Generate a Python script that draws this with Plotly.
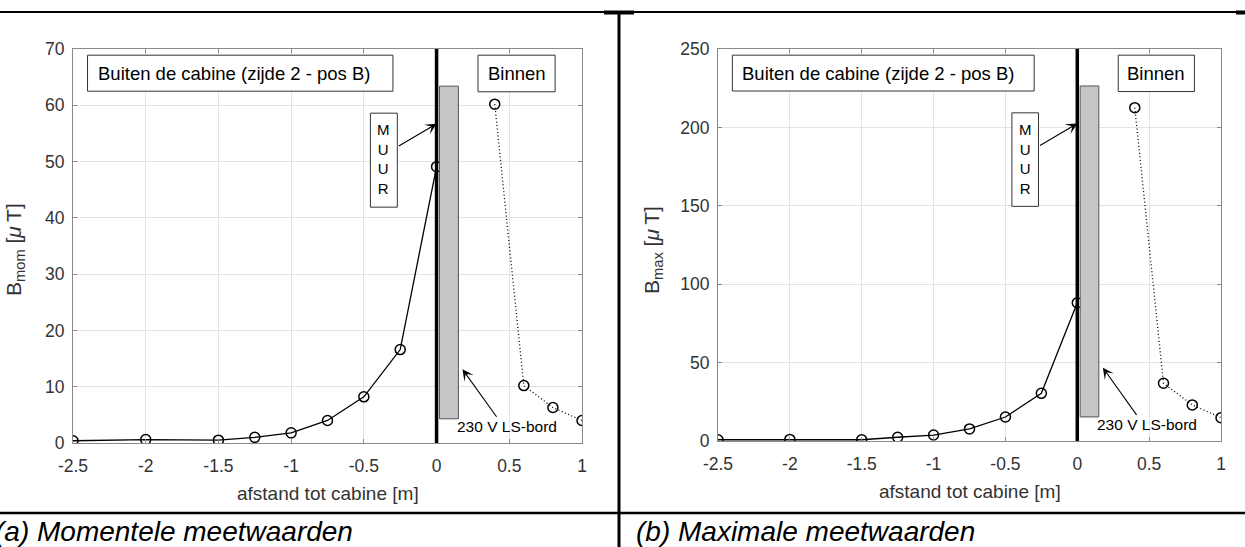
import plotly.graph_objects as go

# ---------------- data ----------------
x_out = [-2.5, -2, -1.5, -1.25, -1, -0.75, -0.5, -0.25, 0]
x_in = [0.4, 0.6, 0.8, 1.0]
b_mom_out = [0.4, 0.6, 0.5, 1.0, 1.8, 4.0, 8.2, 16.6, 49.1]
b_mom_in = [60.2, 10.2, 6.3, 4.0]
b_max_out = [0.8, 1.0, 0.8, 2.4, 3.8, 7.7, 15.3, 30.4, 88.2]
b_max_in = [212.6, 36.8, 23.0, 14.9]

x_tickvals = [-2.5, -2, -1.5, -1, -0.5, 0, 0.5, 1]
x_ticktext = ["-2.5", "-2", "-1.5", "-1", "-0.5", "0", "0.5", "1"]
y_ticks_mom = [0, 10, 20, 30, 40, 50, 60, 70]
y_ticks_max = [0, 50, 100, 150, 200, 250]

title_outside = "Buiten de cabine (zijde 2 - pos B)"
title_inside = "Binnen"
wall_label = "M<br>U<br>U<br>R"
board_label = "230 V LS-bord"
x_title = "afstand tot cabine [m]"
y_title_mom = "B<sub>mom</sub> [<i>μ</i>\u2009T]"
y_title_max = "B<sub>max</sub> [<i>μ</i>\u2009T]"
caption_a = "(a) Momentele meetwaarden"
caption_b = "(b) Maximale meetwaarden"

W, H = 1245, 547
FONT = "Liberation Sans, Arial, Helvetica, sans-serif"
TICKC = "#333333"
FRAMEC = "#8a8a8a"
GRIDC = "#e3e3e3"


def px(xp):
    return xp / W


def py(yp):
    return 1 - yp / H


fig = go.Figure()

panels = [
    dict(xa="x", ya="y", yout=b_mom_out, yin=b_mom_in, ymax=70, yt=y_ticks_mom,
         xdom=[px(73), px(582)], ydom=[py(443), py(49)], ytitle=y_title_mom,
         ytitle_x=15, xtitle_x=327.5, xtitle_y=493),
    dict(xa="x2", ya="y2", yout=b_max_out, yin=b_max_in, ymax=250, yt=y_ticks_max,
         xdom=[px(718), px(1221)], ydom=[py(441), py(49)], ytitle=y_title_max,
         ytitle_x=653, xtitle_x=969.5, xtitle_y=491),
]

shapes = []
annotations = []

for i, p in enumerate(panels):
    xa, ya, ym = p["xa"], p["ya"], p["ymax"]
    fig.add_trace(go.Scatter(x=x_out, y=p["yout"], xaxis=xa, yaxis=ya, mode="lines+markers",
                             line=dict(color="black", width=1.3),
                             marker=dict(symbol="circle-open", size=10, color="black",
                                         line=dict(width=1.5, color="black")),
                             showlegend=False))
    fig.add_trace(go.Scatter(x=x_in, y=p["yin"], xaxis=xa, yaxis=ya, mode="lines+markers",
                             line=dict(color="black", width=1.3, dash="1px,2.5px"),
                             marker=dict(symbol="circle-open", size=10, color="black",
                                         line=dict(width=1.5, color="black")),
                             showlegend=False))
    f = ym / 70.0  # scale factor for overlay positions
    # gray board rectangle
    shapes.append(dict(type="rect", xref=xa, yref=ya, x0=0.02, x1=0.15, y0=4.3 * f, y1=63.4 * f,
                       fillcolor="#c6c6c6", line=dict(color="#555555", width=1), layer="above"))
    # wall line
    shapes.append(dict(type="line", xref=xa, yref=ya, x0=0, x1=0, y0=0, y1=ym,
                       line=dict(color="black", width=3.5), layer="above"))
    # text boxes
    shapes.append(dict(type="rect", xref=xa, yref=ya, x0=-2.40, x1=-0.30, y0=62.5 * f, y1=68.9 * f,
                       fillcolor="white", line=dict(color="#333333", width=1), layer="above"))
    shapes.append(dict(type="rect", xref=xa, yref=ya, x0=0.285, x1=0.815, y0=62.4 * f, y1=68.9 * f,
                       fillcolor="white", line=dict(color="#333333", width=1), layer="above"))
    shapes.append(dict(type="rect", xref=xa, yref=ya, x0=-0.455, x1=-0.27, y0=41.9 * f, y1=58.6 * f,
                       fillcolor="white", line=dict(color="#333333", width=1), layer="above"))
    annotations.append(dict(xref=xa, yref=ya, x=-2.345, y=65.7 * f, text=title_outside,
                            showarrow=False, xanchor="left", yanchor="middle",
                            font=dict(family=FONT, size=18.5, color="black")))
    annotations.append(dict(xref=xa, yref=ya, x=0.55, y=65.65 * f, text=title_inside,
                            showarrow=False, xanchor="center", yanchor="middle",
                            font=dict(family=FONT, size=18.5, color="black")))
    annotations.append(dict(xref=xa, yref=ya, x=-0.362, y=50.4 * f, text=wall_label,
                            showarrow=False, xanchor="center", yanchor="middle",
                            font=dict(family=FONT, size=15, color="black")))
    annotations.append(dict(xref=xa, yref=ya, x=0.485, y=2.9 * f, text=board_label,
                            showarrow=False, xanchor="center", yanchor="middle",
                            font=dict(family=FONT, size=15.5, color="black")))
    # arrows
    annotations.append(dict(xref=xa, yref=ya, axref=xa, ayref=ya, x=0.0, y=56.7 * f,
                            ax=-0.27, ay=52.6 * f, text="", showarrow=True, arrowhead=3,
                            arrowsize=1.7, arrowwidth=1.1, arrowcolor="black",
                            standoff=0, startstandoff=0))
    annotations.append(dict(xref=xa, yref=ya, axref=xa, ayref=ya, x=0.178, y=13.1 * f,
                            ax=0.42, ay=4.4 * f, text="", showarrow=True, arrowhead=3,
                            arrowsize=1.7, arrowwidth=1.1, arrowcolor="black",
                            standoff=0, startstandoff=0))
    # axis titles
    annotations.append(dict(xref="paper", yref="paper", x=px(p["ytitle_x"]), y=py(250),
                            text=p["ytitle"], textangle=-90, showarrow=False,
                            xanchor="center", yanchor="middle",
                            font=dict(family=FONT, size=21, color=TICKC)))
    annotations.append(dict(xref="paper", yref="paper", x=px(p["xtitle_x"]), y=py(p["xtitle_y"]),
                            text=x_title, showarrow=False, xanchor="center", yanchor="middle",
                            font=dict(family=FONT, size=19, color=TICKC)))

    axis_common = dict(showline=True, linecolor=FRAMEC, linewidth=1, mirror="ticks",
                       ticks="inside", ticklen=4, tickcolor=FRAMEC, showgrid=True,
                       gridcolor=GRIDC, gridwidth=1, zeroline=False, automargin=False,
                       tickfont=dict(family=FONT, size=17.5, color=TICKC))
    sfx = "" if i == 0 else "2"
    fig.layout["xaxis" + sfx] = dict(axis_common, domain=p["xdom"], range=[-2.5, 1],
                                     tickvals=x_tickvals, ticktext=x_ticktext,
                                     anchor=ya, ticklabelstandoff=7)
    fig.layout["yaxis" + sfx] = dict(axis_common, domain=p["ydom"], range=[0, ym],
                                     tickvals=p["yt"], ticktext=[str(v) for v in p["yt"]],
                                     anchor=xa, ticklabelstandoff=4)

# page / table lines
shapes += [
    dict(type="line", xref="paper", yref="paper", x0=0, x1=1, y0=py(12), y1=py(12),
         line=dict(color="black", width=2)),
    dict(type="line", xref="paper", yref="paper", x0=px(604), x1=px(634), y0=py(12.5), y1=py(12.5),
         line=dict(color="black", width=4)),
    dict(type="line", xref="paper", yref="paper", x0=px(1236), x1=1, y0=py(12.5), y1=py(12.5),
         line=dict(color="black", width=4)),
    dict(type="line", xref="paper", yref="paper", x0=px(619), x1=px(619), y0=py(11), y1=0,
         line=dict(color="black", width=3)),
    dict(type="line", xref="paper", yref="paper", x0=0, x1=1, y0=py(513), y1=py(513),
         line=dict(color="black", width=2.5)),
]
annotations += [
    dict(xref="paper", yref="paper", x=px(-7), y=py(531), text="<i>" + caption_a + "</i>",
         showarrow=False, xanchor="left", yanchor="middle",
         font=dict(family=FONT, size=28, color="black")),
    dict(xref="paper", yref="paper", x=px(634), y=py(531), text="<i>" + caption_b + "</i>",
         showarrow=False, xanchor="left", yanchor="middle",
         font=dict(family=FONT, size=28, color="black")),
]

fig.update_layout(width=W, height=H, margin=dict(l=0, r=0, t=0, b=0, pad=0, autoexpand=False),
                  paper_bgcolor="white", plot_bgcolor="white",
                  shapes=shapes, annotations=annotations, showlegend=False,
                  font=dict(family=FONT))

fig.write_html("out.html", config={"displayModeBar": False},
               post_script="document.body.style.margin='0';")
